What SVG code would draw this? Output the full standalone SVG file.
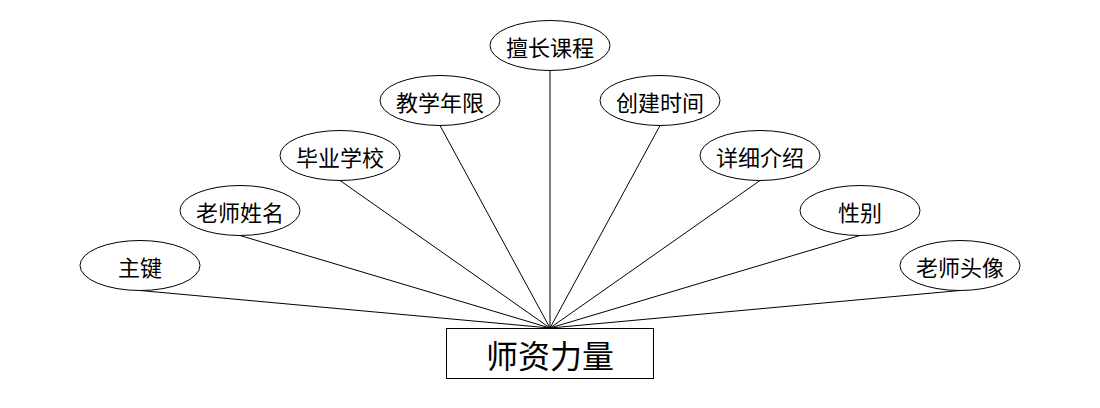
<svg xmlns="http://www.w3.org/2000/svg" width="1100" height="408" viewBox="0 0 1100 408">
<style>
.bg{fill:#ffffff}
.attr ellipse{fill:#ffffff;stroke:#000000;stroke-width:1}
.attr text{font-family:"Noto Sans CJK SC","Noto Sans CJK JP",sans-serif;font-size:22px;fill:#000000;text-anchor:middle;dominant-baseline:central}
.ent rect{fill:#ffffff;stroke:#000000;stroke-width:1}
.ent text{font-family:"Noto Sans CJK SC","Noto Sans CJK JP",sans-serif;font-size:32px;fill:#000000;text-anchor:middle;dominant-baseline:central}
#connectors line{stroke:#000000;stroke-width:1}
</style>
<rect class="bg" x="0" y="0" width="1100" height="408"/>
<g id="connectors">
<line x1="140" y1="290.5" x2="550" y2="328"/>
<line x1="240" y1="235.5" x2="550" y2="328"/>
<line x1="340" y1="180.5" x2="550" y2="328"/>
<line x1="440" y1="125.5" x2="550" y2="328"/>
<line x1="550" y1="70.5" x2="550" y2="328"/>
<line x1="660" y1="125.5" x2="550" y2="328"/>
<line x1="760" y1="180.5" x2="550" y2="328"/>
<line x1="860" y1="235.5" x2="550" y2="328"/>
<line x1="960" y1="290.5" x2="550" y2="328"/>
</g>
<g id="entity" class="ent">
<rect x="446.5" y="328.5" width="207" height="50"/>
<text x="550" y="353.5">师资力量</text>
</g>
<g id="attr-zhujian" class="attr"><ellipse cx="140" cy="265.5" rx="60" ry="25"/><text x="140" y="265.5">主键</text></g>
<g id="attr-laoshixingming" class="attr"><ellipse cx="240" cy="210.5" rx="60" ry="25"/><text x="240" y="210.5">老师姓名</text></g>
<g id="attr-biyexuexiao" class="attr"><ellipse cx="340" cy="155.5" rx="60" ry="25"/><text x="340" y="155.5">毕业学校</text></g>
<g id="attr-jiaoxuenianxian" class="attr"><ellipse cx="440" cy="100.5" rx="60" ry="25"/><text x="440" y="100.5">教学年限</text></g>
<g id="attr-shanchangkecheng" class="attr"><ellipse cx="550" cy="45.5" rx="60" ry="25"/><text x="550" y="45.5">擅长课程</text></g>
<g id="attr-chuangjianshijian" class="attr"><ellipse cx="660" cy="100.5" rx="60" ry="25"/><text x="660" y="100.5">创建时间</text></g>
<g id="attr-xiangxijieshao" class="attr"><ellipse cx="760" cy="155.5" rx="60" ry="25"/><text x="760" y="155.5">详细介绍</text></g>
<g id="attr-xingbie" class="attr"><ellipse cx="860" cy="210.5" rx="60" ry="25"/><text x="860" y="210.5">性别</text></g>
<g id="attr-laoshitouxiang" class="attr"><ellipse cx="960" cy="265.5" rx="60" ry="25"/><text x="960" y="265.5">老师头像</text></g>
</svg>
